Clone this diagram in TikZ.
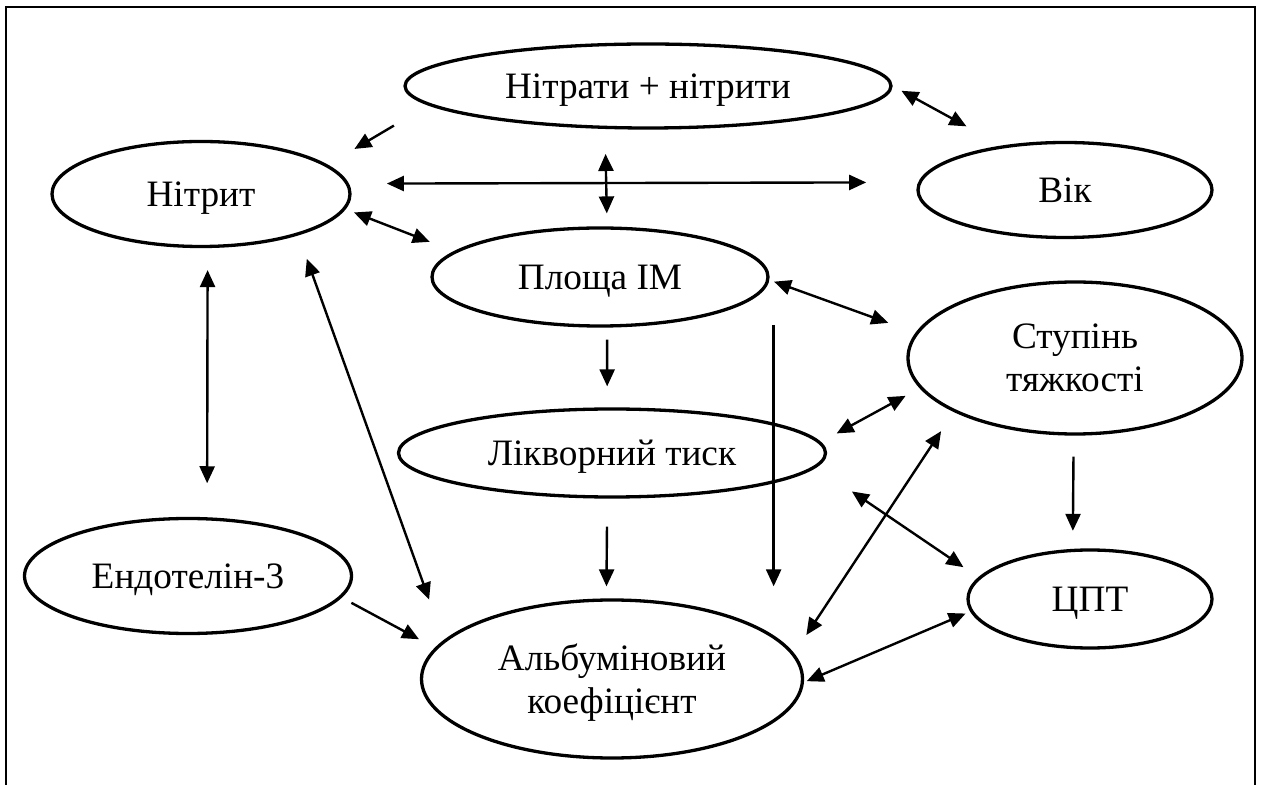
\documentclass[tikz,border=0pt]{standalone}
\usepackage{fontspec}
\setmainfont{Liberation Serif}
\usepackage{tikz}
\usetikzlibrary{shapes.geometric, arrows.meta, calc}
\tikzstyle{oval} = [ellipse, draw=black, line width=0.33mm, inner sep=0pt, text depth=0pt, align=center]
\tikzstyle{arrow} = [line width=0.24mm,->,>={Triangle[length=1.7mm,width=1.5mm]}]
\tikzstyle{twoway} = [line width=0.24mm,<->,>={Triangle[length=1.7mm,width=1.5mm]}]

\begin{document}
\begin{tikzpicture}[x=0.1mm, y=-0.1mm, font=\fontsize{10.6}{12.2}\selectfont]
  \useasboundingbox (0,0) rectangle (1263,785);
  \draw [line width=0.2mm] (6,785) -- (6,7) -- (1255,7) -- (1255,785);

  \node (nitraty) [oval, minimum width=48.6mm, minimum height=8.4mm] at (648,86) {Нітрати + нітрити};
  \node (nitryt) [oval, minimum width=29.8mm, minimum height=10.5mm] at (201,194) {Нітрит};
  \node (vik) [oval, minimum width=29.4mm, minimum height=9.5mm] at (1065,190) {Вік};
  \node (plosha) [oval, minimum width=33.6mm, minimum height=9.8mm] at (600,277) {Площа IM};
  \node (stupin) [oval, minimum width=33.4mm, minimum height=15.2mm] at (1075,358) {Ступінь\\тяжкості};
  \node (likv) [oval, minimum width=42.7mm, minimum height=8.8mm] at (612,453) {Лікворний тиск};
  \node (endo) [oval, minimum width=32.7mm, minimum height=11.5mm] at (188,576) {Ендотелін-3};
  \node (albumin) [oval, minimum width=38.1mm, minimum height=15.8mm] at (612,679) {Альбуміновий\\коефіцієнт};
  \node (cpt) [oval, minimum width=24.4mm, minimum height=9.8mm] at (1090,599) {ЦПТ};

  \coordinate (jtop) at ($(plosha.east)+(4,48)$);

  \draw [arrow, shorten <=4mm, shorten >=3.1mm] (nitraty.185) -- (nitryt.13);
  \draw [twoway, shorten <=1mm, shorten >=4mm] (nitraty.0) -- (vik.145);
  \draw [twoway, shorten <=3.8mm, shorten >=5.2mm] (nitryt.4) -- (vik.177);
  \draw [twoway, shorten <=2.5mm, shorten >=1.3mm] (nitraty.225) -- (plosha.82);
  \draw [twoway, shorten <=0.9mm, shorten >=2.6mm] (nitryt.-6) -- (plosha.170);
  \draw [twoway, shorten <=2.2mm, shorten >=3.4mm] (nitryt.-83) -- (endo.72);
  \draw [twoway, shorten <=2.5mm, shorten >=4.3mm] (nitryt.-23) -- (albumin.167);
  \draw [arrow, shorten <=1.2mm, shorten >=2.1mm] (plosha.-82) -- (likv.96);
  \draw [twoway, shorten <=0.5mm, shorten >=2.9mm] (plosha.-1) -- (stupin.171);
  \draw [arrow, shorten >=1.2mm] (jtop) -- (jtop |- albumin.north);
  \draw [twoway, shorten <=1.8mm, shorten >=1.6mm] (likv.3) -- (stupin.191);
  \draw [arrow, shorten <=2.8mm, shorten >=1.2mm] (likv.-96) -- (albumin.94);
  \draw [twoway, shorten <=4.3mm, shorten >=1.8mm] (likv.-4) -- (cpt.169);
  \draw [twoway, shorten <=2.2mm, shorten >=2.3mm] (albumin.8) -- (stupin.204);
  \draw [twoway, shorten <=0.3mm, shorten >=0.5mm] (albumin.-1) -- (cpt.186);
  \draw [arrow, shorten <=1.1mm, shorten >=1.8mm] (endo.-8) -- (albumin.170);
  \draw [arrow, shorten <=2.1mm, shorten >=1.8mm] (stupin.269) -- (cpt.109);
\end{tikzpicture}
\end{document}
